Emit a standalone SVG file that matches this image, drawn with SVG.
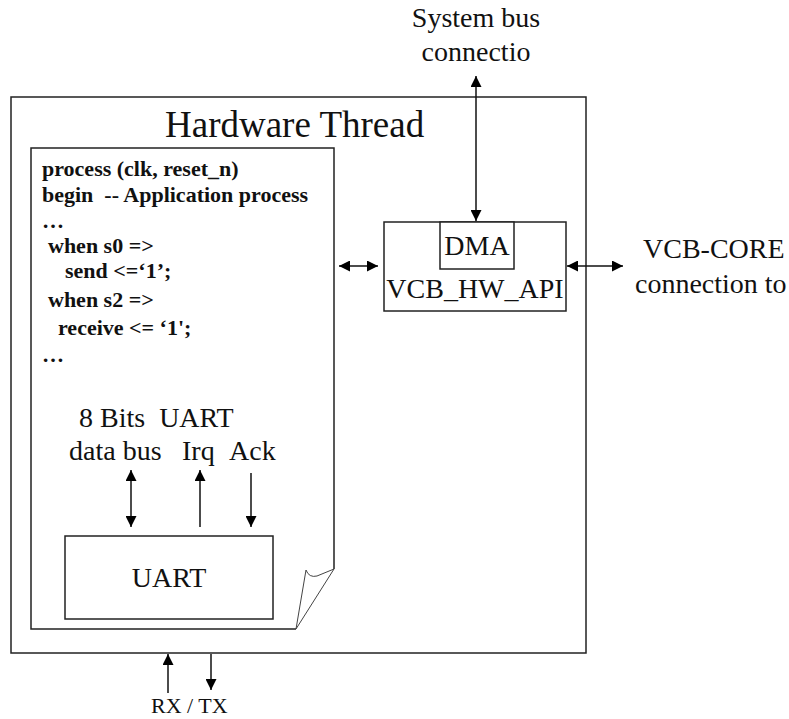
<svg xmlns="http://www.w3.org/2000/svg" width="789" height="719" viewBox="0 0 789 719">
  <defs>
    <marker id="head" markerWidth="11" markerHeight="11" refX="11" refY="5.5" orient="auto-start-reverse" markerUnits="userSpaceOnUse">
      <path d="M0,0 L11,5.5 L0,11 Z" fill="#000"/>
    </marker>
    <style>
      .box { fill: #fff; stroke: #222; stroke-width: 1.5; }
      .lbl { font-family: "Liberation Serif", "Times New Roman", serif; font-size: 28px; fill: #111; white-space: pre; }
      .code { font-family: "Liberation Serif", "Times New Roman", serif; font-size: 22px; font-weight: bold; fill: #111; white-space: pre; }
      .wire { stroke: #111; stroke-width: 1.5; fill: none; }
      .fold { stroke: #444; stroke-width: 1; fill: none; }
    </style>
  </defs>
  <rect width="789" height="719" fill="#fff"/>

  <!-- hardware thread enclosure -->
  <g id="hw-thread">
    <rect class="box" x="11" y="97" width="575" height="556"/>
    <text class="lbl" x="165" y="137" style="font-size:37px">Hardware Thread</text>
  </g>

  <!-- application process page with folded corner -->
  <g id="app-process">
    <path class="box" d="M334,569 V148 H31 V629 H296"/>
    <path class="fold" d="M334,569 L296,629"/>
    <path class="fold" d="M296,629 L306,570 Q309,578 317,576 L334,569"/>
    <text class="code" x="42" y="176">process (clk, reset_n)</text>
    <text class="code" x="42" y="202">begin  -- Application process</text>
    <text class="code" x="42" y="228">…</text>
    <text class="code" x="48" y="253">when s0 =&gt;</text>
    <text class="code" x="65" y="278">send &lt;=‘1’;</text>
    <text class="code" x="48" y="307">when s2 =&gt;</text>
    <text class="code" x="58" y="335">receive &lt;= ‘1';</text>
    <text class="code" x="42" y="362">…</text>
    <text class="lbl" x="79" y="427">8 Bits  UART</text>
    <text class="lbl" x="69" y="460">data bus</text>
    <text class="lbl" x="182" y="460">Irq</text>
    <text class="lbl" x="229" y="460">Ack</text>
  </g>

  <!-- UART block -->
  <g id="uart">
    <rect class="box" x="65" y="536" width="208" height="83"/>
    <text class="lbl" x="169" y="587" text-anchor="middle">UART</text>
  </g>

  <!-- VCB hardware API with DMA -->
  <g id="vcb-hw-api">
    <rect class="box" x="384" y="222" width="182" height="89"/>
    <rect class="box" x="440" y="222" width="74" height="47"/>
    <text class="lbl" x="477" y="255" text-anchor="middle">DMA</text>
    <text class="lbl" x="475" y="298" text-anchor="middle">VCB_HW_API</text>
  </g>

  <!-- external labels -->
  <g id="system-bus">
    <text class="lbl" x="476" y="27" text-anchor="middle">System bus</text>
    <text class="lbl" x="476" y="61" text-anchor="middle">connectio</text>
  </g>
  <g id="vcb-core">
    <text class="lbl" x="643" y="258">VCB-CORE</text>
    <text class="lbl" x="635" y="293">connection to</text>
  </g>
  <g id="rx-tx">
    <text class="lbl" x="151" y="713" style="font-size:22px">RX / TX</text>
  </g>

  <!-- connectors -->
  <g id="connectors">
    <line class="wire" x1="476" y1="76" x2="476" y2="221" marker-start="url(#head)" marker-end="url(#head)"/>
    <line class="wire" x1="339" y1="266" x2="378" y2="266" marker-start="url(#head)" marker-end="url(#head)"/>
    <line class="wire" x1="567" y1="266" x2="623" y2="266" marker-start="url(#head)" marker-end="url(#head)"/>
    <line class="wire" x1="131" y1="470" x2="131" y2="527" marker-start="url(#head)" marker-end="url(#head)"/>
    <line class="wire" x1="200" y1="527" x2="200" y2="470" marker-end="url(#head)"/>
    <line class="wire" x1="251" y1="473" x2="251" y2="527" marker-end="url(#head)"/>
    <line class="wire" x1="168" y1="693" x2="168" y2="654" marker-end="url(#head)"/>
    <line class="wire" x1="211" y1="654" x2="211" y2="690" marker-end="url(#head)"/>
  </g>
</svg>
